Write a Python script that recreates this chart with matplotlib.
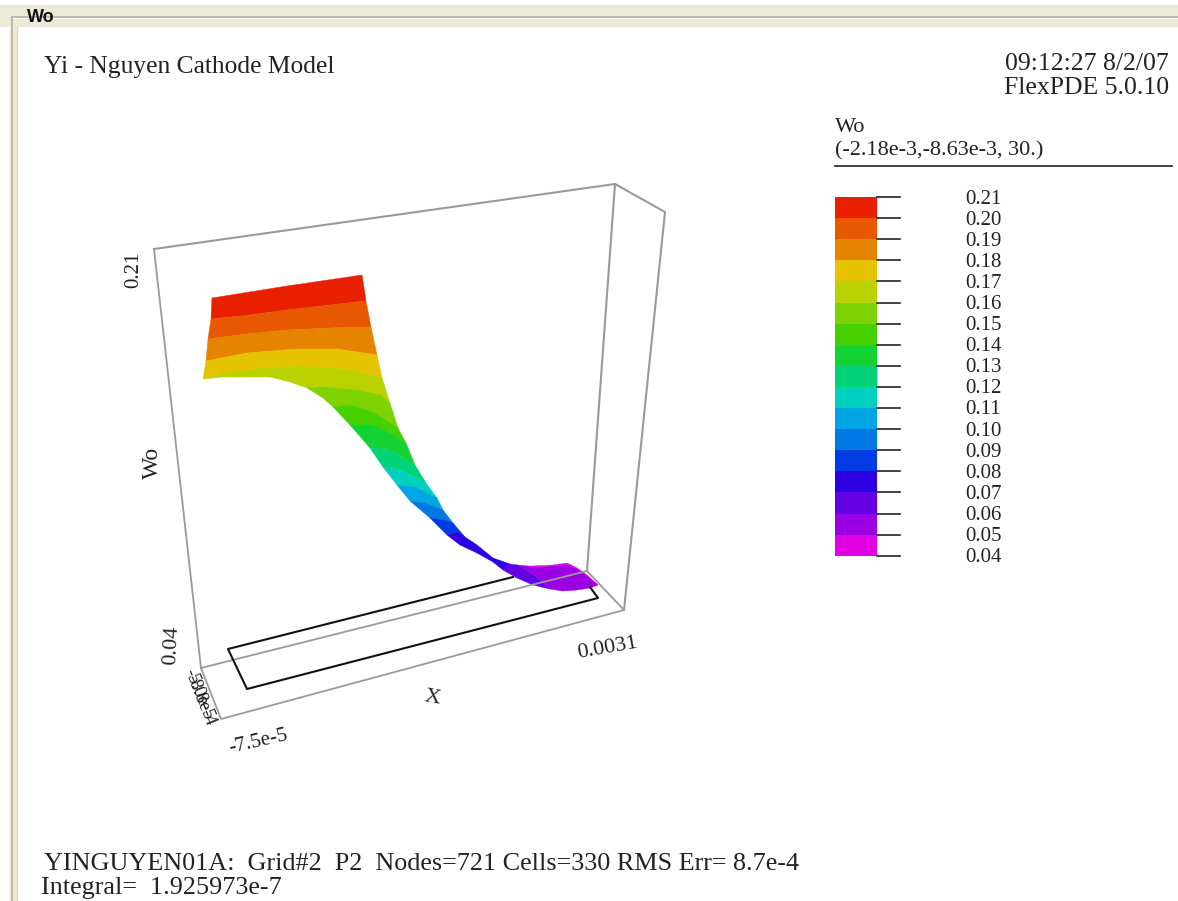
import matplotlib
matplotlib.use("Agg")
import matplotlib.pyplot as plt

# contour levels of Wo, top of the scale first
levels = [0.21, 0.20, 0.19, 0.18, 0.17, 0.16, 0.15, 0.14, 0.13,
          0.12, 0.11, 0.10, 0.09, 0.08, 0.07, 0.06, 0.05, 0.04]
tick_labels = ["%.2f" % v for v in levels]
band_colors = ["#e82000", "#e85800", "#e68400", "#e6c300", "#b9d200", "#7dd200",
               "#46d000", "#14d232", "#00d278", "#00d0be", "#00a5e4", "#0078e4",
               "#003ce4", "#2d00e4", "#6400e4", "#9b00e4", "#e100e4"]

# the surface as it was projected on the screen
front_x = [212, 211, 208, 206, 203, 223, 270, 290, 307, 323, 333, 350, 370, 383, 397,
           410, 430, 447, 460, 477, 493, 503, 517, 533, 550, 563, 577, 590, 598]
front_y = [298, 319, 339, 361, 379, 377, 377, 382, 388, 398, 407, 425, 448, 467, 485,
           501, 518, 535, 545, 553, 562, 570, 578, 585, 589, 591, 590, 588, 585]
back_x = [362, 366, 371, 377, 382, 390, 398, 406, 415, 426, 437, 443, 453, 465, 477,
          493, 510, 518, 527, 533, 553, 567, 577, 587, 598]
back_y = [275, 301, 327, 355, 378, 403, 428, 443, 465, 483, 498, 510, 523, 537, 545,
          558, 564, 565, 566, 566, 565, 563, 568, 575, 585]

# where each contour line meets the two edges, and its points in between
line_front = [0, 1, 2, 3, 4, 8, 10, 11, 12, 13, 14, 15, 16, 17, 21, 24, 28, 28]
line_back = [0, 1, 2, 3, 4, 5, 6, 7, 8, 9, 10, 11, 12, 13, 16, 17, 18, 24]
line_x = [[287], [250, 287, 330], [247, 287, 330], [247, 297, 337],
          [230, 263, 303, 343], [323, 357, 380], [350, 373], [373, 390], [390], [400],
          [415], [425], [445], [458], [], [537], [587, 577, 567, 553, 537], []]
line_y = [[286], [315, 310, 305], [334, 330, 328], [353, 349, 349],
          [372, 368, 366, 369], [387, 390, 395], [405, 412], [425, 433], [450], [470],
          [487], [503], [520], [532], [], [577], [576, 569, 564.5, 566, 567], []]

# box and domain outline
box_x = [154, 615, 665, 624, 587, 201, 221, 624]
box_y = [249, 184, 212, 610, 571, 668, 719, 610]
domain_x = [513, 228, 247, 598, 590]
domain_y = [577, 649, 689, 598, 587]

fig = plt.figure(figsize=(11.78, 9.01), dpi=100)
ax = fig.add_axes([0, 0, 1, 1])
ax.set_xlim(0, 1178)
ax.set_ylim(901, 0)
ax.axis("off")

SERIF = "Liberation Serif"
SANS = "Liberation Sans"
BEIGE = "#ece9d8"
GREY = "#9a9a9a"
INK = "#222222"

# window frame
ax.fill([0, 1178, 1178, 0], [5, 5, 27, 27], color=BEIGE, lw=0)
ax.fill([10, 17, 17, 10], [5, 5, 901, 901], color=BEIGE, lw=0)
ax.plot([12, 1178], [17, 17], color="#b5b29f", lw=1.2)
ax.plot([12, 1178], [18.2, 18.2], color="white", lw=0.8)
ax.plot([12, 12], [17, 901], color="#b5b29f", lw=1.2)
ax.plot([16.5, 16.5], [27, 901], color="#d8d5c2", lw=1)
ax.fill([22, 58, 58, 22], [5, 5, 26, 26], color=BEIGE, lw=0)
ax.text(27, 18, "Wo", family=SANS, weight="bold", fontsize=13, va="center", color="#111111")

# 3d box
ax.plot(box_x[:2] + [box_x[4]], box_y[:2] + [box_y[4]], color=GREY, lw=1.5)
ax.plot(box_x[1:4], box_y[1:4], color=GREY, lw=1.5)
ax.plot([box_x[0], box_x[5], box_x[6], box_x[7], box_x[4], box_x[5]],
        [box_y[0], box_y[5], box_y[6], box_y[7], box_y[4], box_y[5]], color=GREY, lw=1.3)
ax.plot(domain_x, domain_y, color="#111111", lw=1.5)

# surface bands, each one closed along the two edges
for i, color in enumerate(band_colors):
    xs = [front_x[line_front[i]]] + line_x[i]
    ys = [front_y[line_front[i]]] + line_y[i]
    xs = xs + back_x[line_back[i]:line_back[i + 1] + 1]
    ys = ys + back_y[line_back[i]:line_back[i + 1] + 1]
    xs = xs + line_x[i + 1][::-1]
    ys = ys + line_y[i + 1][::-1]
    xs = xs + front_x[line_front[i]:line_front[i + 1] + 1][::-1]
    ys = ys + front_y[line_front[i]:line_front[i + 1] + 1][::-1]
    ax.fill(xs, ys, color=color, lw=0.3)

# colour scale
scale_top = 197
scale_step = 21.1
for i, lab in enumerate(tick_labels):
    y = scale_top + i * scale_step
    if i < len(band_colors):
        ax.fill([835, 877, 877, 835], [y, y, y + scale_step, y + scale_step],
                color=band_colors[i], lw=0)
    ax.plot([877, 900], [y, y], color=INK, lw=1.2)
    ax.text(965, y + 2, lab, family=SERIF, fontsize=15, va="center", color=INK)

ax.text(835, 127, "Wo", family=SERIF, fontsize=16, va="center", color=INK)
ax.text(835, 151, "(-2.18e-3,-8.63e-3, 30.)", family=SERIF, fontsize=16, va="center", color=INK)
ax.plot([835, 1172], [166, 166], color=INK, lw=1.2)

# titles
ax.text(44, 67, "Yi - Nguyen Cathode Model", family=SERIF, fontsize=18.4, va="center", color=INK)
ax.text(1169, 64, "09:12:27 8/2/07", family=SERIF, fontsize=18.5, va="center", ha="right", color=INK)
ax.text(1169, 88, "FlexPDE 5.0.10", family=SERIF, fontsize=18.5, va="center", ha="right", color=INK)
ax.text(44, 864, "YINGUYEN01A:  Grid#2  P2  Nodes=721 Cells=330 RMS Err= 8.7e-4",
        family=SERIF, fontsize=18.8, va="center", color=INK)
ax.text(41, 888, "Integral=  1.925973e-7", family=SERIF, fontsize=18.8, va="center", color=INK)

# axis labels of the box
ax.text(134, 270, "0.21", family=SERIF, fontsize=15, rotation=90, ha="center", va="center", color=INK)
ax.text(152, 463, "Wo", family=SERIF, fontsize=17, rotation=90, ha="center", va="center", color=INK)
ax.text(172, 645, "0.04", family=SERIF, fontsize=16, rotation=87, ha="center", va="center", color=INK)
ax.text(432, 698, "X", family=SERIF, fontsize=16, rotation=-10, ha="center", va="center", color=INK)
ax.text(607, 648, "0.0031", family=SERIF, fontsize=16, rotation=10, ha="center", va="center", color=INK)
ax.text(258, 742, "-7.5e-5", family=SERIF, fontsize=15, rotation=13, ha="center", va="center", color=INK)
ax.text(198, 694, "-5.0e-5", family=SERIF, fontsize=13.5, rotation=-68, ha="center", va="center", color=INK)
ax.text(200, 700, "-8.8e-4", family=SERIF, fontsize=13.5, rotation=-68, ha="center", va="center", color=INK)

fig.savefig("out.png", dpi=100, facecolor="white")
